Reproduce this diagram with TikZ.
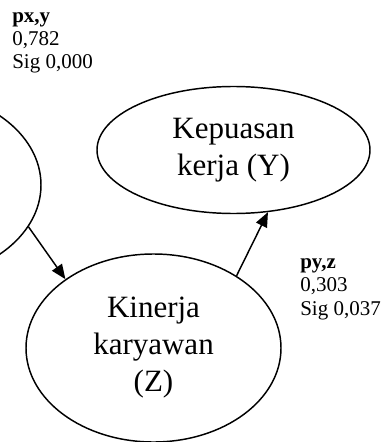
\documentclass[tikz,border=0pt]{standalone}
\usepackage{fontspec}
\setmainfont{Liberation Serif}
\usetikzlibrary{shapes.geometric,arrows.meta}
\tikzset{
  var/.style={draw, ellipse, line width=1.1pt, inner sep=0pt, align=center,
    font=\fontsize{23.25pt}{27.75pt}\selectfont},
  coef/.style={anchor=base west, inner sep=0pt, align=left,
    font=\fontsize{15.75pt}{17.6pt}\selectfont},
  link/.style={line width=1.1pt, -{Triangle[length=11pt,width=9pt]}}
}
\begin{document}
\begin{tikzpicture}[x=0.75pt,y=-0.75pt]
\useasboundingbox (0,0) rectangle (381,442);
\clip (0,0) rectangle (381,442);
\node[var, minimum width=191.25pt, minimum height=141pt] (X) at (-86.5,185) {};
\node[var, minimum width=204.75pt, minimum height=95.25pt] (Y) at (233.5,150) {Kepuasan\\kerja (Y)};
\node[var, minimum width=191.25pt, minimum height=141pt] (Z) at (153.5,348) {Kinerja\\karyawan\\(Z)};
\draw[link] (X.-20.75) -- (Z.142);
\draw[link] (Z.41.2) -- (Y.-61.4);
\node[coef] (cxy) at (12,69) {\textbf{px,y}\\0,782\\Sig 0,000};
\node[coef] (cyz) at (300,315) {\textbf{py,z}\\0,303\\Sig 0,037};
\end{tikzpicture}
\end{document}
